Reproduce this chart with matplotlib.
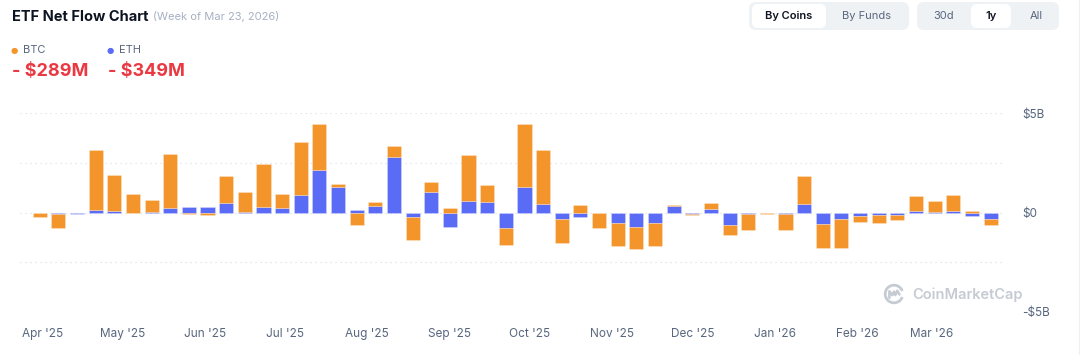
import matplotlib
matplotlib.use("Agg")
import matplotlib.pyplot as plt
import matplotlib.dates as mdates
from matplotlib.patches import FancyBboxPatch, Arc
import numpy as np
import pandas as pd

plt.rcParams['font.family'] = ['Inter', 'DejaVu Sans']

weeks = ["2025-03-31", "2025-04-07", "2025-04-14", "2025-04-21", "2025-04-28",
         "2025-05-05", "2025-05-12", "2025-05-19", "2025-05-26", "2025-06-02",
         "2025-06-09", "2025-06-16", "2025-06-23", "2025-06-30", "2025-07-07",
         "2025-07-14", "2025-07-21", "2025-07-28", "2025-08-04", "2025-08-11",
         "2025-08-18", "2025-08-25", "2025-09-01", "2025-09-08", "2025-09-15",
         "2025-09-22", "2025-09-29", "2025-10-06", "2025-10-13", "2025-10-20",
         "2025-10-27", "2025-11-03", "2025-11-10", "2025-11-17", "2025-11-24",
         "2025-12-01", "2025-12-08", "2025-12-15", "2025-12-22", "2025-12-29",
         "2026-01-05", "2026-01-12", "2026-01-19", "2026-01-26", "2026-02-02",
         "2026-02-09", "2026-02-16", "2026-02-23", "2026-03-02", "2026-03-09",
         "2026-03-16", "2026-03-23"]

# weekly net flows, billions USD
eth_flow = [-0.05, -0.10, -0.06, 0.13, 0.08, -0.05, 0.05, 0.23, 0.27, 0.27,
            0.48, 0.05, 0.27, 0.22, 0.87, 2.12, 1.30, 0.13, 0.32, 2.82,
            -0.23, 1.05, -0.73, 0.58, 0.53, -0.78, 1.28, 0.45, -0.32, -0.23,
            -0.02, -0.52, -0.75, -0.52, 0.32, -0.07, 0.18, -0.65, -0.10, 0.0,
            -0.10, 0.45, -0.60, -0.32, -0.18, -0.13, -0.13, 0.08, 0.05, 0.08,
            -0.18, -0.349]
btc_flow = [-0.17, -0.68, -0.01, 3.00, 1.80, 0.92, 0.60, 2.72, -0.08, -0.13,
            1.37, 1.00, 2.18, 0.73, 2.68, 2.35, 0.12, -0.65, 0.23, 0.55,
            -1.15, 0.47, 0.22, 2.32, 0.88, -0.87, 3.18, 2.68, -1.22, 0.40,
            -0.78, -1.18, -1.10, -1.18, 0.07, -0.08, 0.32, -0.47, -0.78, -0.06,
            -0.78, 1.40, -1.17, -1.48, -0.28, -0.38, -0.27, 0.73, 0.55, 0.78,
            0.10, -0.289]

y_ticks = [-5, 0, 5]
y_tick_labels = ["-$5B", "$0", "$5B"]
grid_levels = [-5, -2.5, 0, 2.5, 5]

BTC_C = '#F3952A'
ETH_C = '#5A6BF6'
GRID_C = '#DDE1E8'
TXT_GRAY = '#58667E'
WM_C = '#C5CAD3'

x = pd.to_datetime(weeks)
eth = np.array(eth_flow)
btc = np.array(btc_flow)
btc_bottom = np.where(np.sign(btc) == np.sign(eth), eth, 0.0)

fig = plt.figure(figsize=(10.8, 3.55), dpi=100)
fig.patch.set_facecolor('white')
ax = fig.add_axes([20/1080, 43.3/355, 985/1080, 198.4/355])

width = 5.3
edge = (1, 1, 1, 0.35)
ax.bar(x, eth, width=width, color=ETH_C, edgecolor=edge, linewidth=0.5, zorder=3)
ax.bar(x, btc, width=width, bottom=btc_bottom, color=BTC_C, edgecolor=edge, linewidth=0.5, zorder=3)

for g in grid_levels:
    ax.axhline(g, color=GRID_C, linewidth=0.9, linestyle=(0, (1, 3)), zorder=1)

ax.set_ylim(-5, 5)
ax.set_xlim(pd.Timestamp("2025-03-23 14:00"), pd.Timestamp("2026-03-28 10:00"))
for s in ax.spines.values():
    s.set_visible(False)

ax.yaxis.tick_right()
ax.set_yticks(y_ticks)
ax.set_yticklabels(y_tick_labels)
ax.tick_params(axis='y', length=0, pad=12.5, labelsize=8.5, labelcolor=TXT_GRAY)

ax.xaxis.set_major_locator(mdates.MonthLocator())
ax.xaxis.set_major_formatter(mdates.DateFormatter("%b '%y"))
ax.tick_params(axis='x', length=0, pad=12, labelsize=8.5, labelcolor=TXT_GRAY)

# watermark
fig.text(912/1080, 1 - 295/355, "CoinMarketCap", ha='left', va='center',
         fontsize=10.5, color=WM_C, fontweight='semibold')
lax = fig.add_axes([883/1080, 1 - 305/355, 22/1080, 22/355])
lax.set_xlim(-1, 1)
lax.set_ylim(-1, 1)
lax.set_aspect('equal')
lax.axis('off')
lax.add_patch(Arc((0, 0), 1.6, 1.6, theta1=20, theta2=340, color=WM_C, linewidth=2.0))
lax.plot([-0.42, -0.42, -0.15, 0.0, 0.12, 0.3, 0.5], [-0.35, 0.25, -0.1, 0.22, -0.1, 0.3, -0.05],
         color=WM_C, linewidth=1.8, solid_capstyle='round', solid_joinstyle='round')

# header
fig.text(12/1080, 1 - 17/355, "ETF Net Flow Chart", fontsize=10.5, fontweight='bold',
         color='#0D1421', va='center', ha='left')
fig.text(153/1080, 1 - 17/355, "(Week of Mar 23, 2026)", fontsize=8, color='#A6B0C3',
         va='center', ha='left')

fig.text(14.5/1080, 1 - 50/355, "●", fontsize=6, color=BTC_C, va='center', ha='center',
         family=['DejaVu Sans'])
fig.text(23/1080, 1 - 50/355, "BTC", fontsize=8, color=TXT_GRAY, va='center', ha='left')
fig.text(110.5/1080, 1 - 50/355, "●", fontsize=6, color=ETH_C, va='center', ha='center',
         family=['DejaVu Sans'])
fig.text(119/1080, 1 - 50/355, "ETH", fontsize=8, color=TXT_GRAY, va='center', ha='left')

fig.text(12/1080, 1 - 72/355, "- $289M", fontsize=13, fontweight='bold', color='#EA3943',
         va='center', ha='left')
fig.text(108/1080, 1 - 72/355, "- $349M", fontsize=13, fontweight='bold', color='#EA3943',
         va='center', ha='left')

def rrect(x0, y0, x1, y1, color, r=5):
    p = FancyBboxPatch((x0/1080, 1 - y1/355), (x1-x0)/1080, (y1-y0)/355,
                       boxstyle=f"round,pad=0,rounding_size={r/1080}",
                       transform=fig.transFigure, facecolor=color, edgecolor='none',
                       mutation_aspect=1080/355)
    fig.patches.append(p)

rrect(749, 2, 909, 30, '#EFF2F5', r=7)
rrect(752, 4, 826, 28, '#FFFFFF', r=6)
rrect(917, 2, 1059, 30, '#EFF2F5', r=7)
rrect(971, 4, 1011, 28, '#FFFFFF', r=6)

fig.text(789/1080, 1 - 16/355, "By Coins", fontsize=8, fontweight='semibold', color='#0D1421',
         ha='center', va='center')
fig.text(866/1080, 1 - 16/355, "By Funds", fontsize=8, color=TXT_GRAY, ha='center', va='center')
fig.text(944/1080, 1 - 16/355, "30d", fontsize=8, color=TXT_GRAY, ha='center', va='center')
fig.text(991/1080, 1 - 16/355, "1y", fontsize=8, fontweight='semibold', color='#0D1421',
         ha='center', va='center')
fig.text(1036/1080, 1 - 16/355, "All", fontsize=8, color=TXT_GRAY, ha='center', va='center')

fig.add_artist(plt.Line2D([1079/1080, 1079/1080], [0, 1], transform=fig.transFigure,
                          color='#EEF0F3', linewidth=1))

fig.savefig("out.png", dpi=100, facecolor='white')
